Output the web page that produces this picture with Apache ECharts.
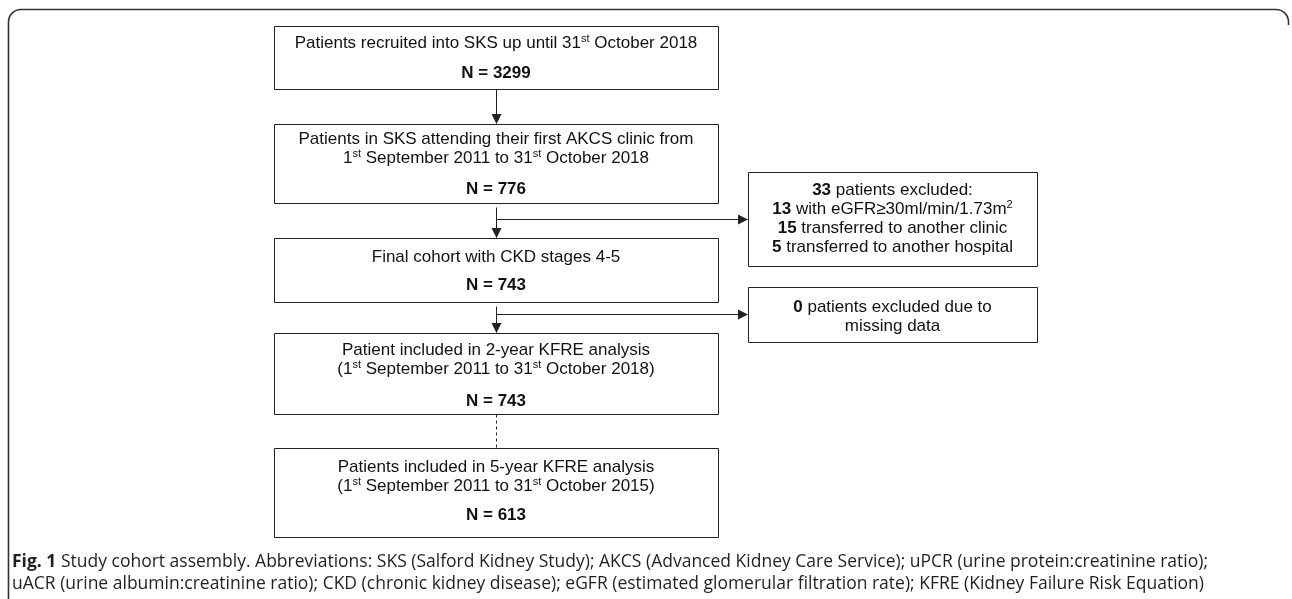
<!DOCTYPE html>
<html>
<head>
<meta charset="utf-8">
<script src="https://cdn.jsdelivr.net/npm/echarts@6/dist/echarts.min.js"></script>
<style>
html,body{margin:0;padding:0;background:#fff;}
#chart{width:1292px;height:599px;}
</style>
</head>
<body>
<div id="chart"></div>
<script>
// ---- DATA ----
const mainStepTexts = [
  'Patients recruited into SKS up until 31{sup|st} October 2018',
  'Patients in SKS attending their first AKCS clinic from\n1{sup|st} September 2011 to 31{sup|st} October 2018',
  'Final cohort with CKD stages 4-5',
  'Patient included in 2-year KFRE analysis\n(1{sup|st} September 2011 to 31{sup|st} October 2018)',
  'Patients included in 5-year KFRE analysis\n(1{sup|st} September 2011 to 31{sup|st} October 2015)'
];
const mainStepCounts = [3299, 776, 743, 743, 613];
const exclusionCounts = [33, 13, 15, 5];
const exclusionLabels = ['patients excluded:', 'with eGFR≥30ml/min/1.73m{sup|2}', 'transferred to another clinic', 'transferred to another hospital'];
const missingCounts = [0];
const missingLabels = ['patients excluded due to\nmissing data'];
const captionTitle = 'Fig. 1';
const captionLines = [
  'Study cohort assembly. Abbreviations: SKS (Salford Kidney Study); AKCS (Advanced Kidney Care Service); uPCR (urine protein:creatinine ratio);',
  'uACR (urine albumin:creatinine ratio); CKD (chronic kidney disease); eGFR (estimated glomerular filtration rate); KFRE (Kidney Failure Risk Equation)'
];

// ---- LAYOUT ----
const FONT = '"Liberation Sans", Arial, sans-serif';
const CAPFONT = '"Open Sans", "Noto Sans", sans-serif';
const FS = 17;
const LINE = '#222';
const mainX = 274, mainW = 444, cx = 496;
const mainBoxes = [
  {top: 26, bottom: 89, textY: 43, nY: 73},
  {top: 124, bottom: 203, textY: 139, nY: 189},
  {top: 238, bottom: 302, textY: 257, nY: 285},
  {top: 333, bottom: 414, textY: 350, nY: 401},
  {top: 448, bottom: 537, textY: 467, nY: 515}
];
const sideX = 748, sideW = 289;
const sideBoxes = [
  {top: 172, bottom: 266, branchY: 219, textY: 190},
  {top: 287, bottom: 342, branchY: 314, textY: 307}
];

const rich = {
  sup: {fontSize: 11, fontFamily: FONT, verticalAlign: 'top', fill: '#111', lineHeight: 19},
  b: {fontSize: FS, fontFamily: FONT, fontWeight: 'bold', fill: '#111', lineHeight: 19}
};

const els = [];
function rect(x, y, w, h) {
  els.push({type: 'rect', shape: {x: x + 0.5, y: y + 0.5, width: w, height: h},
    style: {fill: '#fff', stroke: LINE, lineWidth: 1}});
}
function line(x1, y1, x2, y2, dash) {
  els.push({type: 'line', shape: {x1: x1 + 0.5, y1: y1 + 0.5, x2: x2 + 0.5, y2: y2 + 0.5},
    style: {stroke: LINE, lineWidth: 1, lineDash: dash ? [3, 3] : null}});
}
function arrowDown(x, y) { // tip at (x,y)
  els.push({type: 'polygon', shape: {points: [[x - 4.5, y - 10], [x + 5.5, y - 10], [x + 0.5, y]]}, style: {fill: LINE}});
}
function arrowRight(x, y) {
  els.push({type: 'polygon', shape: {points: [[x - 10, y - 4.5], [x - 10, y + 5.5], [x, y + 0.5]]}, style: {fill: LINE}});
}
function text(str, x, y, opts) {
  els.push({type: 'text', z: 10, style: Object.assign({
    text: str, x: x, y: y, fontSize: FS, fontFamily: FONT, fill: '#111',
    align: 'center', verticalAlign: 'middle', lineHeight: 19, rich: rich
  }, opts || {})});
}

// frame
const frameStyle = {fill: null, stroke: '#333', lineWidth: 1.6};
els.push({type: 'polyline', shape: {points: [[8.5, 599], [8.5, 22]]}, style: frameStyle});
els.push({type: 'arc', shape: {cx: 21, cy: 22, r: 12.5, startAngle: Math.PI, endAngle: Math.PI * 1.5, clockwise: true}, style: frameStyle});
els.push({type: 'polyline', shape: {points: [[21, 9.5], [1276, 9.5]]}, style: frameStyle});
els.push({type: 'arc', shape: {cx: 1276, cy: 22, r: 12.5, startAngle: Math.PI * 1.5, endAngle: Math.PI * 2, clockwise: true}, style: frameStyle});
els.push({type: 'polyline', shape: {points: [[1288.5, 22], [1288.5, 25]]}, style: frameStyle});

// main boxes
mainBoxes.forEach(function (b, i) {
  rect(mainX, b.top, mainW, b.bottom - b.top);
  const lines = mainStepTexts[i].split('\n').length;
  text(mainStepTexts[i], cx, b.textY + (lines - 1) * 19 / 2);
  text('N = ' + mainStepCounts[i], cx, b.nY, {fontWeight: 'bold'});
});
// connectors
[0, 1, 2].forEach(function (i) {
  line(cx, mainBoxes[i].bottom + (i === 0 ? 0 : 4), cx, mainBoxes[i + 1].top - 1);
  arrowDown(cx, mainBoxes[i + 1].top);
});
line(cx, mainBoxes[3].bottom, cx, mainBoxes[4].top, true);
// side branches
sideBoxes.forEach(function (s) {
  line(cx, s.branchY, sideX - 2, s.branchY);
  arrowRight(sideX, s.branchY);
  rect(sideX, s.top, sideW, s.bottom - s.top);
});
const exclText = exclusionCounts.map(function (c, i) { return '{b|' + c + '} ' + exclusionLabels[i]; }).join('\n');
text(exclText, sideX + sideW / 2, sideBoxes[0].textY + 3 * 19 / 2);
const missText = '{b|' + missingCounts[0] + '} ' + missingLabels[0];
text(missText, sideX + sideW / 2, sideBoxes[1].textY + 19 / 2);

// caption
els.push({type: 'text', style: {
  text: '{t|' + captionTitle + '} ' + captionLines[0] + '\n' + captionLines[1],
  x: 12, y: 551, fontSize: 17.5, fontFamily: CAPFONT, fill: '#231f20', lineHeight: 22,
  align: 'left', verticalAlign: 'top',
  rich: {t: {fontSize: 17.5, fontWeight: 'bold', fontFamily: CAPFONT, fill: '#231f20', lineHeight: 22}}
}});

const chart = echarts.init(document.getElementById('chart'));
chart.setOption({backgroundColor: '#fff', graphic: {elements: els}});
</script>
</body>
</html>
